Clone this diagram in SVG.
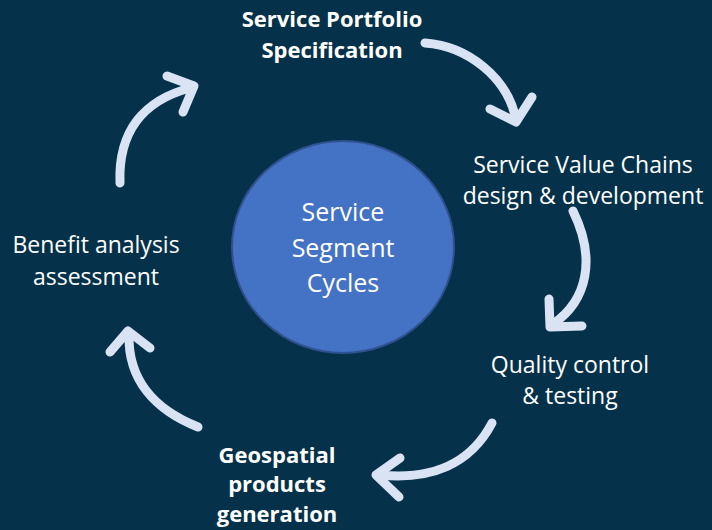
<svg xmlns="http://www.w3.org/2000/svg" width="712" height="530" viewBox="0 0 712 530">
  <style>
    .lbl { font-family: "Open Sans", "Liberation Sans", sans-serif; font-size: 23px; fill: #ffffff; text-anchor: middle; }
    .bold { font-weight: bold; font-size: 22px; }
    .core { font-family: "Open Sans", "Liberation Sans", sans-serif; font-size: 25px; fill: #ffffff; text-anchor: middle; }
    .flow { fill: none; stroke: #dae3f3; stroke-width: 9; stroke-linecap: round; stroke-linejoin: round; }
  </style>
  <rect width="712" height="530" fill="#05324a"/>

  <g id="center">
    <ellipse cx="343" cy="247" rx="111" ry="106" fill="#4472c4" stroke="#2f528f" stroke-width="2"/>
    <text class="core" x="343" y="221">Service</text>
    <text class="core" x="343" y="257">Segment</text>
    <text class="core" x="343" y="292">Cycles</text>
  </g>

  <g id="portfolio">
    <text class="lbl bold" x="332" y="27">Service Portfolio</text>
    <text class="lbl bold" x="332" y="58">Specification</text>
  </g>

  <g id="value-chains">
    <text class="lbl" x="583" y="173">Service Value Chains</text>
    <text class="lbl" x="583" y="204">design &amp; development</text>
  </g>

  <g id="quality">
    <text class="lbl" x="570" y="373">Quality control</text>
    <text class="lbl" x="570" y="404">&amp; testing</text>
  </g>

  <g id="geospatial">
    <text class="lbl bold" x="277" y="463">Geospatial</text>
    <text class="lbl bold" x="277" y="492">products</text>
    <text class="lbl bold" x="277" y="522">generation</text>
  </g>

  <g id="benefit">
    <text class="lbl" x="96" y="253">Benefit analysis</text>
    <text class="lbl" x="96" y="285">assessment</text>
  </g>

  <g id="connectors">
    <path class="flow" d="M425,43 C468,46 508,78 516,120"/>
    <path class="flow" d="M490,109 L516,122 L532,97"/>

    <path class="flow" d="M573,211 C596,258 588,300 553,324"/>
    <path class="flow" d="M549,299 L550,327 L582,326"/>

    <path class="flow" d="M492,423 C470,465 430,480 380,475"/>
    <path class="flow" d="M400,458 L376,475 L399,497"/>

    <path class="flow" d="M198,427 C155,410 128,380 129,335"/>
    <path class="flow" d="M110,352 L128,331 L150,348"/>

    <path class="flow" d="M120,183 C118,130 145,100 190,88"/>
    <path class="flow" d="M167,76 L194,86 L183,112"/>
  </g>
</svg>
